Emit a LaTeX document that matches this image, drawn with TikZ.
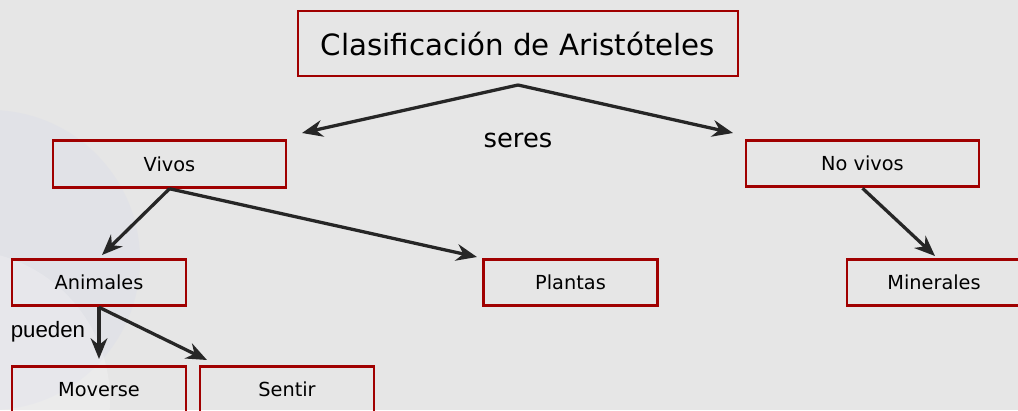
\documentclass[tikz,border=0pt]{standalone}
\usepackage{fontspec}
\setmainfont{DejaVu Sans}
\newfontfamily\labelfont{Liberation Sans}
\usetikzlibrary{arrows.meta,positioning}

\definecolor{fondo}{RGB}{230,230,230}
\definecolor{borde}{RGB}{160,0,0}
\definecolor{burbuja}{RGB}{222,224,232}

\begin{document}
\begin{tikzpicture}[x=0.03cm,y=-0.03cm]
  \tikzset{caja/.style={draw=borde,line width=2.4pt,minimum width=#1,minimum height=1.4cm,inner sep=0pt,font=\fontsize{16.5}{19}\selectfont},
    flecha/.style={-{Stealth[length=0.62cm,width=0.5cm]},line width=2.8pt,draw=black!85}}

  \fill[fondo] (0,0) rectangle (1018,410);
  \clip (0,0) rectangle (1018,410);
  % burbujas del fondo
  \fill[burbuja,opacity=0.6] (-10,260) circle (150);
  \fill[white,opacity=0.2] (-40,400) circle (150);

  \node (T) [draw=borde,line width=2.4pt,minimum width=13.2cm,minimum height=1.95cm,font=\fontsize{25}{30}\selectfont] at (518,43.5) {Clasificación de Aristóteles};
  \coordinate (T0) at (518,85);
  \node (V) [caja=6.99cm] at (169.5,164) {Vivos};
  \node (NV) [caja=6.99cm] at (862.5,163.5) {No vivos};
  \node (A) [caja=5.22cm] at (99,282.5) {Animales};
  \node (P) [caja=5.22cm] at (570.5,282.5) {Plantas};
  \node (M) [caja=5.22cm] at (934,282.5) {Minerales};
  \node (Mo) [caja=5.22cm] at (99,389.5) {Moverse};
  \node (S) [caja=5.22cm] at (287,389.5) {Sentir};

  \node (seres) [font=\fontsize{22}{26}\selectfont] at (518,140) {seres};
  \node (pueden) [font=\labelfont\fontsize{19}{22}\selectfont] at (48,332) {pueden};

  \coordinate (V1) at (302,133);
  \coordinate (NV1) at (733,133);
  \draw[flecha] (T0) -- (V1);
  \draw[flecha] (T0) -- (NV1);
  \draw[flecha] (V.south) -- (102,255);
  \draw[flecha] (V.south) -- (477,257);
  \draw[flecha] (NV.south) -- (935,256);
  \draw[flecha] (A.south) -- (99,359);
  \draw[flecha] (A.south) -- (207,360);
\end{tikzpicture}
\end{document}
